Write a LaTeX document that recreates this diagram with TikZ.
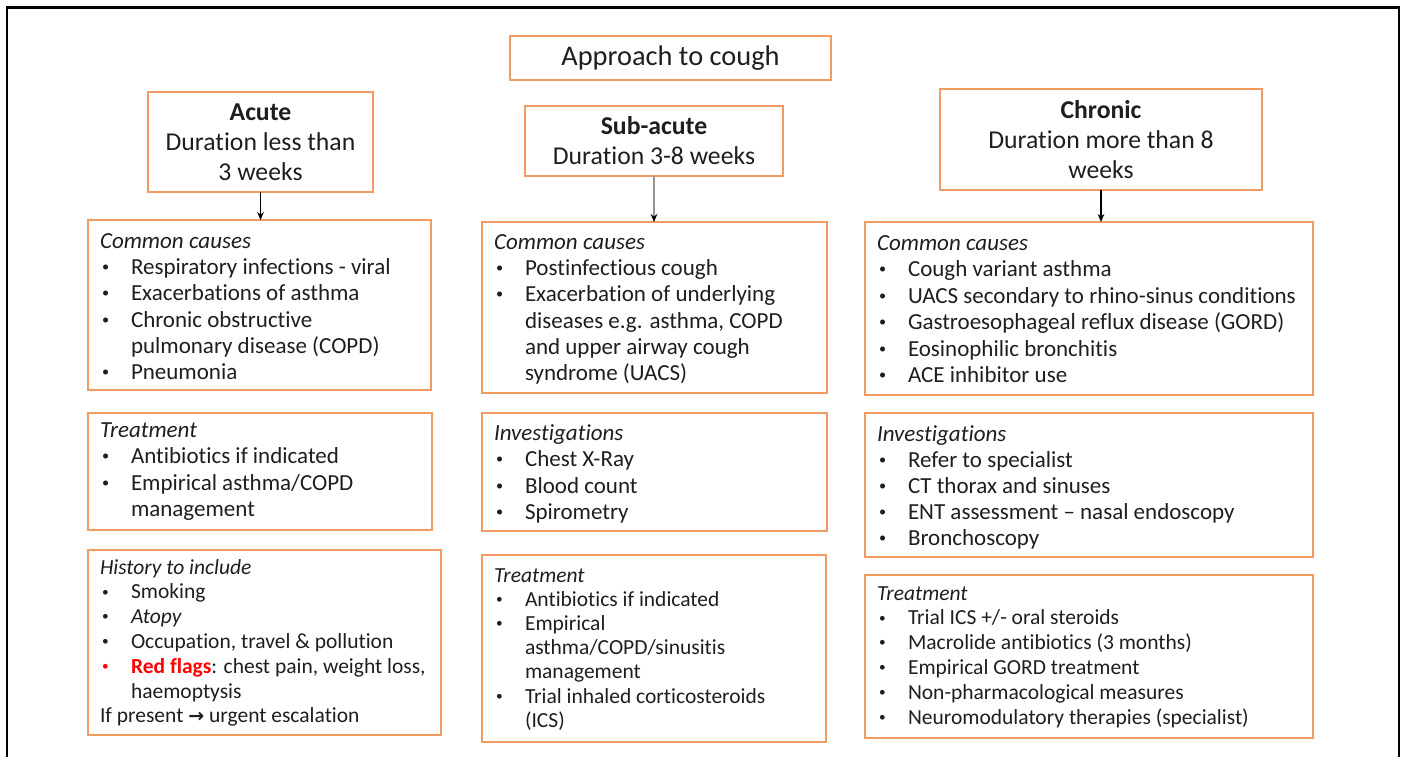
\documentclass[tikz,border=0pt]{standalone}
\usepackage{fontspec}
\usepackage{graphicx}
\setmainfont{Carlito}[Ligatures=NoCommon]
\newfontfamily\symfont{DejaVu Sans}
\usetikzlibrary{arrows.meta}
\newlength\px \setlength\px{0.75pt}
\definecolor{boxor}{RGB}{241,155,98}
\definecolor{ink}{RGB}{30,30,30}
\definecolor{flag}{RGB}{255,0,0}
\definecolor{arrgray}{RGB}{150,150,150}
\newcommand\nl{\hfil\break}
\newcommand\smallbullet{\raisebox{0.13em}{\scalebox{0.62}{\textbullet}}}
\newcommand\bitem[2][ink]{\par\hangindent=31\px\hangafter=1\noindent\makebox[31\px][l]{\hspace{2\px}\textcolor{#1}{\smallbullet}}#2}
% #1 width, #2 height, #3 font size, #4 line skip, #5 first baseline, #6 content (all px)
\newcommand\pbody[6]{\begin{minipage}[t][#2\px][t]{#1\px}\fontsize{#3\px}{#4\px}\selectfont\color{ink}\raggedright\leftskip=12\px\parindent=0pt\parskip=0pt\noindent\rule{0pt}{#5\px}#6\par\end{minipage}}
\tikzset{
  panel/.style={draw=boxor, line width=1.6pt, anchor=north west, inner sep=0pt, outer sep=0pt},
  hdr/.style={draw=boxor, line width=1.6pt, inner sep=0pt, outer sep=0pt, align=center, text=ink,
     font=\fontsize{25.7\px}{30\px}\selectfont},
  arr/.style={line width=0.9pt, -{Stealth[length=6pt,width=5pt,color=black]}},
  frame/.style={line width=2.2pt, black}
}
\begin{document}
\begin{tikzpicture}[x=\px,y=-\px]
\useasboundingbox (0,0) rectangle (1405,756);
\draw[frame] (7,760) -- (7,7.5) -- (1399,7.5) -- (1399,760);

% headers
\node[hdr, minimum width=321*0.75pt, minimum height=44*0.75pt, font=\fontsize{28.4\px}{32\px}\selectfont] (title) at (670.5,58) {Approach to cough};
\node[hdr, minimum width=225*0.75pt, minimum height=100*0.75pt] (acute) at (260.5,142) {\textbf{Acute}\\Duration less than\\3 weeks};
\node[hdr, minimum width=258*0.75pt, minimum height=70*0.75pt] (sub) at (654,141) {\textbf{Sub-acute}\\Duration 3-8 weeks};
\node[hdr, minimum width=322*0.75pt, minimum height=101*0.75pt] (chron) at (1101,139.5) {\textbf{Chronic}\\Duration more than 8\\weeks};

% left column
\node[panel] (cc1) at (88,220) {\pbody{343}{170}{23}{26.2}{28.4}{\textit{Common causes}
\bitem{Respiratory infections - viral}
\bitem{Exacerbations of asthma}
\bitem{Chronic obstructive\nl pulmonary disease (COPD)}
\bitem{Pneumonia}}};
\node[panel] (tr1) at (88,413) {\pbody{344}{117}{23}{26.5}{24}{\textit{Treatment}
\bitem{Antibiotics if indicated}
\bitem{Empirical asthma/COPD\nl management}}};
\node[panel] (hi1) at (88,550) {\pbody{353}{185}{21.5}{24.8}{24}{\textit{History to include}
\bitem{Smoking}
\bitem{\textit{Atopy}}
\bitem{Occupation, travel \& pollution}
\bitem[flag]{\textcolor{flag}{\textbf{Red flags}}: chest pain, weight loss,\nl haemoptysis}
\par\noindent If present {\symfont\bfseries\fontsize{19\px}{24.8\px}\selectfont →} urgent escalation}};

% middle column
\node[panel] (cc2) at (482,222) {\pbody{345}{171}{23}{26.2}{27.4}{\textit{Common causes}
\bitem{Postinfectious cough}
\bitem{Exacerbation of underlying\nl diseases e.g. asthma, COPD\nl and upper airway cough\nl syndrome (UACS)}}};
\node[panel] (in2) at (482,413) {\pbody{345}{118}{23}{26.3}{27.4}{\textit{Investigations}
\bitem{Chest X-Ray}
\bitem{Blood count}
\bitem{Spirometry}}};
\node[panel] (tr2) at (482,555) {\pbody{344}{187}{21.5}{24.2}{27}{\textit{Treatment}
\bitem{Antibiotics if indicated}
\bitem{Empirical\nl asthma/COPD/sinusitis\nl management}
\bitem{Trial inhaled corticosteroids\nl (ICS)}}};

% right column
\node[panel] (cc3) at (865,222) {\pbody{448}{173}{23}{26.4}{28.4}{\textit{Common causes}
\bitem{Cough variant asthma}
\bitem{UACS secondary to rhino-sinus conditions}
\bitem{Gastroesophageal reflux disease (GORD)}
\bitem{Eosinophilic bronchitis}
\bitem{ACE inhibitor use}}};
\node[panel] (in3) at (865,413) {\pbody{448}{144}{23}{26}{28.4}{\textit{Investigations}
\bitem{Refer to specialist}
\bitem{CT thorax and sinuses}
\bitem{ENT assessment – nasal endoscopy}
\bitem{Bronchoscopy}}};
\node[panel] (tr3) at (865,575) {\pbody{448}{163}{21.5}{24.8}{25}{\textit{Treatment}
\bitem{Trial ICS +/- oral steroids}
\bitem{Macrolide antibiotics (3 months)}
\bitem{Empirical GORD treatment}
\bitem{Non-pharmacological measures}
\bitem{Neuromodulatory therapies (specialist)}}};

% connectors
\draw[arr] (acute.south) -- (acute.south |- cc1.north);
\draw[arr, arrgray] (sub.south) -- (sub.south |- cc2.north);
\draw[arr] (chron.south) -- (chron.south |- cc3.north);
\end{tikzpicture}
\end{document}
